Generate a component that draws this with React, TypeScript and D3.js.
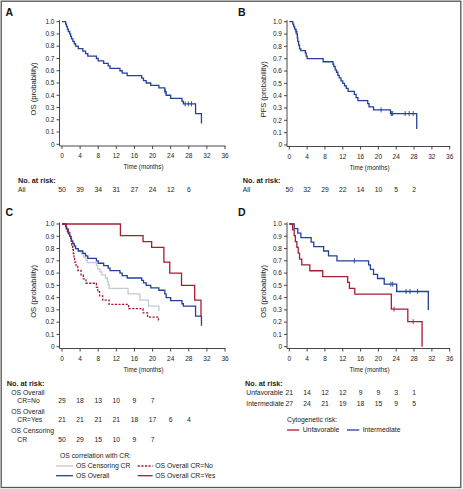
import React from "react";
import * as d3 from "d3";

// ---------- data ----------
const xTicks = [0, 4, 8, 12, 16, 20, 24, 28, 32, 36];
const yTicks = [0, 0.1, 0.2, 0.3, 0.4, 0.5, 0.6, 0.7, 0.8, 0.9, 1.0];
const yTickLabels = ["0", "0.1", "0.2", "0.3", "0.4", "0.5", "0.6", "0.7", "0.8", "0.9", "1.0"];
const riskTimes = [0, 4, 8, 12, 16, 20, 24, 28];

// Panel A / C blue: OS overall
const osT = [0, 0.8, 1.0, 1.2, 1.4, 1.7, 1.9, 2.1, 2.4, 2.7, 3.0, 3.6, 4.6, 5.2, 5.7, 7.6, 8.0, 9.2, 10.2, 10.6, 12.8, 13.3, 14.4, 17.6, 18.0, 18.6, 19.6, 21.4, 22.7, 23.0, 24.0, 26.5, 26.8, 29.5, 30.8];
const osS = [1, 0.98, 0.96, 0.94, 0.92, 0.9, 0.88, 0.86, 0.84, 0.82, 0.8, 0.78, 0.76, 0.74, 0.72, 0.7, 0.68, 0.66, 0.64, 0.62, 0.6, 0.58, 0.56, 0.54, 0.52, 0.5, 0.48, 0.46, 0.43, 0.4, 0.375, 0.35, 0.33, 0.25, 0.17];
const osEnd = 30.8;
const osCens = [22.8, 27.2, 27.9, 28.6];
const osRisk = [50, 39, 34, 31, 27, 24, 12, 6];

// Panel B: PFS
const pfsT = [0, 0.8, 1.0, 1.2, 1.5, 1.7, 1.8, 1.9, 2.1, 2.3, 2.6, 3.6, 3.8, 4.0, 7.6, 9.8, 10.0, 10.3, 10.6, 10.9, 11.2, 11.6, 12.0, 12.4, 12.8, 13.2, 14.6, 15.0, 15.4, 17.6, 17.9, 18.9, 22.7, 28.6];
const pfsS = [1, 0.98, 0.96, 0.94, 0.92, 0.9, 0.87, 0.84, 0.81, 0.78, 0.765, 0.745, 0.72, 0.7, 0.675, 0.655, 0.635, 0.61, 0.59, 0.565, 0.545, 0.52, 0.5, 0.48, 0.46, 0.435, 0.41, 0.385, 0.36, 0.335, 0.31, 0.285, 0.255, 0.13];
const pfsEnd = 28.6;
const pfsCens = [1.5, 20.6, 22.9, 23.2, 26.0, 26.9, 27.8];
const pfsRisk = [50, 32, 29, 22, 14, 10, 5, 2];

// Panel C: CR = Yes
const crYesT = [0, 12.9, 17.9, 19.8, 22.5, 23.8, 26.4, 29.3, 30.7];
const crYesS = [1, 0.905, 0.857, 0.81, 0.69, 0.6, 0.5, 0.38, 0.245];
const crYesEnd = 30.7;
const crYesRisk = [21, 21, 21, 21, 18, 17, 6, 4];

// Panel C: CR = No
const crNoT = [0, 0.9, 1.4, 1.7, 2.0, 2.15, 2.35, 2.5, 2.65, 2.8, 3.1, 3.5, 4.2, 4.7, 5.3, 7.6, 7.9, 8.3, 9.0, 10.4, 14.7, 17.9, 18.9, 21.3];
const crNoS = [1, 0.966, 0.931, 0.897, 0.862, 0.828, 0.793, 0.759, 0.724, 0.69, 0.655, 0.621, 0.586, 0.552, 0.517, 0.483, 0.448, 0.414, 0.379, 0.345, 0.31, 0.276, 0.241, 0.207];
const crNoEnd = 21.3;
const crNoRisk = [29, 18, 13, 10, 9, 7];

// Panel C: OS censoring CR
const censCrT = [0, 0.8, 1.0, 1.2, 1.4, 1.7, 1.9, 2.1, 2.4, 2.7, 3.0, 3.6, 4.3, 4.8, 5.3, 5.6, 7.6, 7.9, 8.4, 8.8, 9.6, 10.0, 10.2, 10.4, 14.6, 17.2, 19.1, 21.4];
const censCrS = [1, 0.98, 0.96, 0.94, 0.92, 0.9, 0.88, 0.86, 0.84, 0.82, 0.8, 0.78, 0.755, 0.73, 0.705, 0.685, 0.66, 0.635, 0.61, 0.585, 0.56, 0.53, 0.505, 0.475, 0.43, 0.38, 0.33, 0.29];
const censCrEnd = 21.4;
const censCrRisk = [50, 29, 15, 10, 9, 7];

// Panel D: Intermediate
const interT = [0, 1.1, 1.9, 2.6, 4.9, 5.5, 7.7, 8.8, 10.7, 17.8, 18.2, 18.9, 19.8, 21.3, 24.1, 31.2];
const interS = [1, 0.963, 0.926, 0.889, 0.852, 0.815, 0.78, 0.74, 0.7, 0.667, 0.63, 0.59, 0.556, 0.51, 0.45, 0.3];
const interEnd = 31.2;
const interCens = [14.6, 22.8, 23.2, 26.2, 27.1, 28.8];
const interRisk = [27, 24, 21, 19, 18, 15, 9, 5];

// Panel D: Unfavorable
const unfavT = [0, 0.75, 1.1, 1.35, 1.7, 2.0, 2.3, 2.8, 4.6, 7.5, 13.1, 13.5, 14.7, 22.9, 26.6, 29.8];
const unfavS = [1, 0.952, 0.905, 0.857, 0.81, 0.762, 0.714, 0.667, 0.619, 0.571, 0.524, 0.476, 0.429, 0.306, 0.204, 0];
const unfavEnd = 29.8;
const unfavCens = [23.5, 27.8];
const unfavRisk = [21, 14, 12, 12, 9, 9, 3, 1];

// ---------- style ----------
const FONT = "'Liberation Sans', Arial, Helvetica, sans-serif";
const BLUE = "#23409a";
const RED = "#a71d33";
const GREY = "#c4cad1";
const AXIS = "#333";

type Series = { t: number[]; s: number[]; end: number; cens?: number[]; color: string; dash?: string };

function valueAt(t: number[], s: number[], time: number) {
  let v = s[0];
  for (let i = 0; i < t.length; i++) if (t[i] <= time) v = s[i];
  return v;
}

function Panel(props: {
  xr: [number, number];
  yr: [number, number];
  axX: number;
  axY: number;
  ylab: string;
  ylabX: number;
  series: Series[];
}) {
  const { xr, yr, axX, axY, ylab, ylabX, series } = props;
  const x = d3.scaleLinear().domain([0, 36]).range(xr);
  const y = d3.scaleLinear().domain([0, 1]).range(yr);
  const line = d3
    .line<[number, number]>()
    .x((d) => x(d[0]))
    .y((d) => y(d[1]))
    .curve(d3.curveStepAfter);
  const midY = (yr[0] + yr[1]) / 2 + 6;
  return (
    <g>
      {/* axes */}
      <line x1={axX} x2={axX} y1={y(1) - 1.5} y2={axY} stroke={AXIS} strokeWidth={0.9} />
      <line x1={axX} x2={x(36) + 0.5} y1={axY} y2={axY} stroke={AXIS} strokeWidth={0.9} />
      {yTicks.map((v, i) => (
        <g key={"y" + i}>
          <line x1={axX - 3} x2={axX} y1={y(v)} y2={y(v)} stroke={AXIS} strokeWidth={0.9} />
          <text x={axX - 5} y={y(v)} dy="0.35em" textAnchor="end" fontSize={6.5} fill="#222" fontFamily={FONT}>
            {yTickLabels[i]}
          </text>
        </g>
      ))}
      {xTicks.map((v) => (
        <g key={"x" + v}>
          <line x1={x(v)} x2={x(v)} y1={axY} y2={axY + 3} stroke={AXIS} strokeWidth={0.9} />
          <text x={x(v)} y={axY + 12} textAnchor="middle" fontSize={6.5} fill="#222" fontFamily={FONT}>
            {v}
          </text>
        </g>
      ))}
      <text
        x={(xr[0] + xr[1]) / 2}
        y={axY + 23}
        textAnchor="middle"
        fontSize={8}
        fill="#222"
        fontFamily={FONT}
        textLength={40}
        lengthAdjust="spacingAndGlyphs"
      >
        Time (months)
      </text>
      <text
        transform={`translate(${ylabX},${midY}) rotate(-90)`}
        textAnchor="middle"
        dy="0.35em"
        fontSize={8}
        fill="#222"
        fontFamily={FONT}
        textLength={ylab.length > 16 ? 56 : 53}
        lengthAdjust="spacingAndGlyphs"
      >
        {ylab}
      </text>
      {/* curves */}
      {series.map((se, i) => {
        const pts: [number, number][] = se.t.map((t, j) => [t, se.s[j]] as [number, number]);
        pts.push([se.end, se.s[se.s.length - 1]]);
        return (
          <g key={"s" + i}>
            <path
              d={line(pts) || ""}
              fill="none"
              stroke={se.color}
              strokeWidth={1.3}
              strokeDasharray={se.dash}
            />
            {(se.cens || []).map((c, k) => {
              const v = valueAt(se.t, se.s, c);
              return (
                <line
                  key={k}
                  x1={x(c)}
                  x2={x(c)}
                  y1={y(v) - 2.5}
                  y2={y(v) + 2.5}
                  stroke={se.color}
                  strokeWidth={0.9}
                />
              );
            })}
          </g>
        );
      })}
    </g>
  );
}

function RiskRow(props: { xr: [number, number]; yPos: number; values: number[] }) {
  const x = d3.scaleLinear().domain([0, 36]).range(props.xr);
  return (
    <g>
      {props.values.map((v, i) => (
        <text key={i} x={x(riskTimes[i])} y={props.yPos} dy="0.35em" textAnchor="middle" fontSize={6.8} fill="#222" fontFamily={FONT}>
          {v}
        </text>
      ))}
    </g>
  );
}

function T(props: { x: number; y: number; children: any; bold?: boolean; size?: number; anchor?: string }) {
  return (
    <text
      x={props.x}
      y={props.y}
      dy="0.35em"
      fontSize={props.size || 6.8}
      fontWeight={props.bold ? "bold" : "normal"}
      textAnchor={props.anchor || "start"}
      fill="#222"
      fontFamily={FONT}
    >
      {props.children}
    </text>
  );
}

export default function App() {
  const xrL: [number, number] = [62, 225];
  const xrR: [number, number] = [289.3, 449.7];
  return (
    <svg
      width={463}
      height={489}
      style={{ position: "absolute", left: 0, top: 0, background: "#fff" }}
    >
      <rect x={0} y={0} width={463} height={489} fill="#fff" />
      <rect x={1.2} y={1.2} width={459.6} height={486.3} fill="none" stroke="#555" strokeWidth={1.3} />

      {/* letters */}
      <text x={5.5} y={15.5} fontSize={10.5} fontWeight="bold" fontFamily={FONT} fill="#111">A</text>
      <text x={238} y={15.5} fontSize={10.5} fontWeight="bold" fontFamily={FONT} fill="#111">B</text>
      <text x={5.5} y={216} fontSize={10.5} fontWeight="bold" fontFamily={FONT} fill="#111">C</text>
      <text x={238} y={216} fontSize={10.5} fontWeight="bold" fontFamily={FONT} fill="#111">D</text>

      {/* Panel A */}
      <Panel
        xr={xrL}
        yr={[144.3, 21.7]}
        axX={59.5}
        axY={146}
        ylab="OS (probability)"
        ylabX={33}
        series={[{ t: osT, s: osS, end: osEnd, cens: osCens, color: BLUE }]}
      />
      <T x={18} y={180} bold size={7.3}>No. at risk:</T>
      <T x={18} y={189.5}>All</T>
      <RiskRow xr={xrL} yPos={189.5} values={osRisk} />

      {/* Panel B */}
      <Panel
        xr={xrR}
        yr={[145, 21.7]}
        axX={287}
        axY={146.5}
        ylab="PFS (probability)"
        ylabX={262.7}
        series={[{ t: pfsT, s: pfsS, end: pfsEnd, cens: pfsCens, color: BLUE }]}
      />
      <T x={242.7} y={180} bold size={7.3}>No. at risk:</T>
      <T x={242.7} y={189.5}>All</T>
      <RiskRow xr={xrR} yPos={189.5} values={pfsRisk} />

      {/* Panel C */}
      <Panel
        xr={xrL}
        yr={[346.7, 224]}
        axX={59.5}
        axY={348.5}
        ylab="OS (probability)"
        ylabX={33.3}
        series={[
          { t: censCrT, s: censCrS, end: censCrEnd, color: GREY },
          { t: osT, s: osS, end: osEnd, color: BLUE },
          { t: crNoT, s: crNoS, end: crNoEnd, color: RED, dash: "2.2,1.4" },
          { t: crYesT, s: crYesS, end: crYesEnd, color: RED },
        ]}
      />
      <T x={6.7} y={383} bold size={7.3}>No. at risk:</T>
      <T x={11.3} y={392.3}>OS Overall</T>
      <T x={17.3} y={401}>CR=No</T>
      <RiskRow xr={xrL} yPos={401} values={crNoRisk} />
      <T x={11.3} y={411.7}>OS Overall</T>
      <T x={17.3} y={420}>CR=Yes</T>
      <RiskRow xr={xrL} yPos={420} values={crYesRisk} />
      <T x={11.3} y={430.7}>OS Censoring</T>
      <T x={17.3} y={439.3}>CR</T>
      <RiskRow xr={xrL} yPos={439.3} values={censCrRisk} />

      <T x={60} y={455.7}>OS correlation with CR:</T>
      <line x1={56} x2={73} y1={466} y2={466} stroke={GREY} strokeWidth={1.3} />
      <T x={76} y={466}>OS Censoring CR</T>
      <line x1={137.7} x2={152.7} y1={466} y2={466} stroke={RED} strokeWidth={1.3} strokeDasharray="2.2,1.4" />
      <T x={155.3} y={466}>OS Overall CR=No</T>
      <line x1={56} x2={73} y1={475.7} y2={475.7} stroke={BLUE} strokeWidth={1.3} />
      <T x={76} y={475.7}>OS Overall</T>
      <line x1={137.7} x2={152.7} y1={475.7} y2={475.7} stroke={RED} strokeWidth={1.3} />
      <T x={155.3} y={475.7}>OS Overall CR=Yes</T>

      {/* Panel D */}
      <Panel
        xr={xrR}
        yr={[346.7, 224]}
        axX={287}
        axY={348.5}
        ylab="OS (probability)"
        ylabX={262.7}
        series={[
          { t: interT, s: interS, end: interEnd, cens: interCens, color: BLUE },
          { t: unfavT, s: unfavS, end: unfavEnd, cens: unfavCens, color: RED },
        ]}
      />
      <T x={245} y={383} bold size={7.3}>No. at risk:</T>
      <T x={246.3} y={392.3}>Unfavorable</T>
      <RiskRow xr={xrR} yPos={392.3} values={unfavRisk} />
      <T x={246.3} y={403.3}>Intermediate</T>
      <RiskRow xr={xrR} yPos={403.3} values={interRisk} />

      <T x={287} y={419.3}>Cytogenetic risk:</T>
      <line x1={287} x2={299.3} y1={430} y2={430} stroke={RED} strokeWidth={1.3} />
      <T x={302.7} y={430}>Unfavorable</T>
      <line x1={347} x2={359.3} y1={430} y2={430} stroke={BLUE} strokeWidth={1.3} />
      <T x={362.7} y={430}>Intermediate</T>
    </svg>
  );
}
